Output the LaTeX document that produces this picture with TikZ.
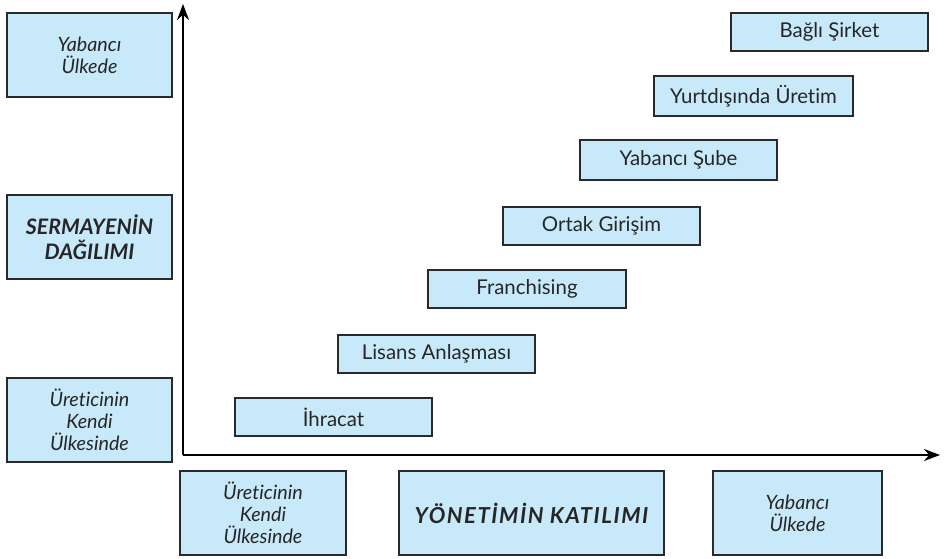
\documentclass[tikz,border=0pt]{standalone}
\usepackage{fontspec}
\setmainfont[Ligatures=NoCommon]{Lato}
\usetikzlibrary{arrows.meta}
\definecolor{boxfill}{HTML}{C8E9F9}
\definecolor{boxline}{HTML}{2A2A2A}
\tikzset{
  px/.style={x=0.75pt,y=-0.75pt},
  cell/.style={draw=boxline,line width=1.6pt,fill=boxfill,inner sep=0pt,align=center,text=black!85},
  stagebox/.style={cell,minimum width=148pt,minimum height=29pt,font=\fontsize{15.3}{17}\selectfont},
  sidebox/.style={cell,minimum width=124pt,minimum height=63pt,font=\itshape\fontsize{14.8}{16.3}\selectfont},
  boldside/.style={sidebox,font=\bfseries\itshape\fontsize{16}{19}\selectfont},
  axis/.style={line width=1.6pt,-{Stealth[length=12pt,width=9pt]}}
}
\begin{document}
\begin{tikzpicture}[px]
\useasboundingbox (0,0) rectangle (945,559);
% side boxes
\node[sidebox] (yl) at (89.5,55) {Yabancı\\Ülkede};
\node[boldside] (sd) at (89.5,237) {SERMAYENİN\\DAĞILIMI};
\node[sidebox] (ul) at (89.5,420) {Üreticinin\\Kendi\\Ülkesinde};
\node[sidebox] (ub) at (263,513) {Üreticinin\\Kendi\\Ülkesinde};
\node[boldside,minimum width=199pt,font=\bfseries\itshape\fontsize{16.5}{19}\selectfont\addfontfeature{LetterSpace=7}] (yk) at (531.5,513) {YÖNETİMİN KATILIMI};
\node[sidebox,minimum width=127pt] (yb) at (797.5,513) {Yabancı\\Ülkede};
% axes
\coordinate (o) at (183,455);
\coordinate (ytop) at (183,4);
\coordinate (xend) at (940,455);
\draw[axis] (o) -- (ytop);
\draw[axis] (o) -- (xend);
% stages
\node[stagebox] (s1) at (333.5,417) {İhracat};
\node[stagebox] (s2) at (436.5,354) {Lisans Anlaşması};
\node[stagebox] (s3) at (527,289) {Franchising};
\node[stagebox] (s4) at (601.5,226) {Ortak Girişim};
\node[stagebox,minimum height=30pt] (s5) at (678.5,160) {Yabancı Şube};
\node[stagebox,minimum height=30pt,minimum width=149pt] (s6) at (753.5,96) {Yurtdışında Üretim};
\node[stagebox] (s7) at (829.5,32) {Bağlı Şirket};
\end{tikzpicture}
\end{document}
